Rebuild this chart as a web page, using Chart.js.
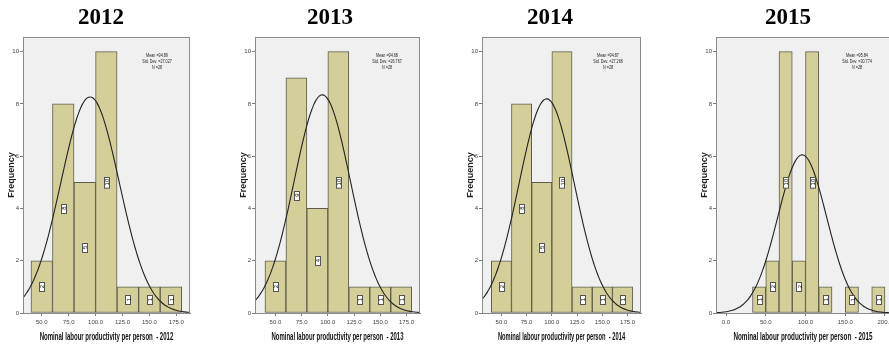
<!DOCTYPE html>
<html>
<head>
<meta charset="utf-8">
<script src="https://cdn.jsdelivr.net/npm/chart.js@4.4.1/dist/chart.umd.min.js"></script>
<style>
  html, body { margin: 0; padding: 0; background: #ffffff; }
  #wrap { position: relative; width: 889px; height: 347px; overflow: hidden; }
  #wrap .panel { position: absolute; top: 0; height: 347px; }
  #wrap canvas { display: block; }
</style>
</head>
<body>
<div id="wrap"></div>
<script>
// Years shown, one histogram each
const years = ['2012', '2013', '2014', '2015'];

// Histogram bins (midpoints) and frequencies
const binMids2012 = [50, 70, 90, 110, 130, 150, 170];
const counts2012  = [2, 8, 5, 10, 1, 1, 1];
const binMids2013 = [50, 70, 90, 110, 130, 150, 170];
const counts2013  = [2, 9, 4, 10, 1, 1, 1];
const binMids2014 = [50, 70, 90, 110, 130, 150, 170];
const counts2014  = [2, 8, 5, 10, 1, 1, 1];
const binMids2015 = [41.667, 58.333, 75, 91.667, 108.333, 125, 141.667, 158.333, 175, 191.667];
const counts2015  = [1, 2, 10, 2, 10, 1, 0, 1, 0, 1];
const binWidths   = [20, 20, 20, 50 / 3];

// Summary statistics printed in each panel (also define the normal curve)
const means   = [94.89, 94.68, 94.87, 95.84];
const stdDevs = [27.027, 26.767, 27.266, 30.774];
const nCases  = [28, 28, 28, 28];

// Axis ticks
const xTicksA    = [50, 75, 100, 125, 150, 175];
const xTicks2015 = [0, 50, 100, 150, 200];
const yTicks     = [0, 2, 4, 6, 8, 10];

const xTitlePrefix = 'Nominal labour productivity per person  - ';

// Panel placement on the page
const panels = [
  { left: 0,   width: 200, padRight: 10, xMin: 32.6,  xMax: 187.7, titleX: 101, mids: binMids2012, counts: counts2012, ticks: xTicksA },
  { left: 232, width: 200, padRight: 12, xMin: 30.5,  xMax: 187.9, titleX: 330, mids: binMids2013, counts: counts2013, ticks: xTicksA },
  { left: 459, width: 190, padRight: 8,  xMin: 30.8,  xMax: 188.3, titleX: 550, mids: binMids2014, counts: counts2014, ticks: xTicksA },
  { left: 693, width: 212, padRight: 15, xMin: -12.6, xMax: 206.3, titleX: 788, mids: binMids2015, counts: counts2015, ticks: xTicks2015 }
];

const SANS = "'Liberation Sans', Arial, sans-serif";
const NARROW = "'Liberation Sans Narrow', 'Liberation Sans', Arial, sans-serif";

// Fitted normal curve scaled to frequency units
function normalCurve(mean, sd, n, width, lo, hi) {
  const pts = [];
  const steps = 90;
  for (let i = 0; i <= steps; i++) {
    const x = lo + (hi - lo) * i / steps;
    const z = (x - mean) / sd;
    pts.push({ x: x, y: n * width * Math.exp(-0.5 * z * z) / (sd * Math.sqrt(2 * Math.PI)) });
  }
  return pts;
}

// Grey plot background and frame
const plotFrame = {
  id: 'plotFrame',
  beforeDatasetsDraw(chart) {
    const a = chart.chartArea, ctx = chart.ctx;
    ctx.save();
    ctx.fillStyle = '#f0f0f0';
    ctx.fillRect(a.left, a.top, a.right - a.left, a.bottom - a.top);
    ctx.restore();
  },
  afterDatasetsDraw(chart) {
    const a = chart.chartArea, ctx = chart.ctx;
    ctx.save();
    ctx.strokeStyle = '#8c8c8c';
    ctx.lineWidth = 1;
    ctx.strokeRect(Math.round(a.left) + 0.5, Math.round(a.top) + 0.5,
                   Math.round(a.right - a.left) - 1, Math.round(a.bottom - a.top));
    ctx.restore();
  }
};

// Boxed frequency label in the middle of each bar
const barLabels = {
  id: 'barLabels',
  afterDatasetsDraw(chart) {
    const meta = chart.getDatasetMeta(0);
    const data = chart.data.datasets[0].data;
    const ctx = chart.ctx;
    ctx.save();
    ctx.font = '6px ' + SANS;
    meta.data.forEach((bar, i) => {
      const v = data[i].y;
      if (!v) return;
      const cx = bar.x, cy = (bar.y + bar.base) / 2;
      const txt = String(v);
      const tw = ctx.measureText(txt).width;
      const h = Math.max(9, tw + 4), w = 5;
      ctx.fillStyle = '#ffffff';
      ctx.fillRect(Math.round(cx - w / 2) + 0.5, Math.round(cy - h / 2) + 0.5, w, h);
      ctx.strokeStyle = '#555555';
      ctx.lineWidth = 1;
      ctx.strokeRect(Math.round(cx - w / 2) + 0.5, Math.round(cy - h / 2) + 0.5, w, h);
      ctx.save();
      ctx.translate(cx + 0.5, cy);
      ctx.rotate(-Math.PI / 2);
      ctx.fillStyle = '#111111';
      ctx.textAlign = 'center';
      ctx.textBaseline = 'middle';
      ctx.fillText(txt, 0, 0.5);
      ctx.restore();
    });
    ctx.restore();
  }
};

// Year heading, statistics box and x-axis title
const panelText = {
  id: 'panelText',
  afterDraw(chart, args, opts) {
    const a = chart.chartArea, ctx = chart.ctx;
    ctx.save();
    // year heading
    ctx.fillStyle = '#000000';
    ctx.font = "bold 23px 'Liberation Serif', 'Times New Roman', serif";
    ctx.textAlign = 'center';
    ctx.textBaseline = 'middle';
    ctx.fillText(opts.year, opts.titleX, 18);

    // statistics
    ctx.font = '6px ' + SANS;
    ctx.fillStyle = '#222222';
    const lines = ['Mean =' + opts.mean.toFixed(2), 'Std. Dev. =' + opts.sd.toFixed(3), 'N =' + opts.n];
    lines.forEach((t, i) => {
      ctx.save();
      ctx.translate(a.right - 33, 55 + i * 6.2);
      ctx.scale(0.62, 1);
      ctx.fillText(t, 0, 0);
      ctx.restore();
    });

    // x-axis title, condensed to the panel width
    ctx.font = 'bold 10px ' + SANS;
    ctx.fillStyle = '#111111';
    const title = xTitlePrefix + opts.year;
    const tw = ctx.measureText(title).width;
    const sx = 0.8 * (a.right - a.left) / tw;
    ctx.translate((a.left + a.right) / 2, 337);
    ctx.scale(sx, 1);
    ctx.fillText(title, 0, 0);
    ctx.restore();
  }
};

const wrap = document.getElementById('wrap');

panels.forEach((p, k) => {
  const div = document.createElement('div');
  div.className = 'panel';
  div.style.left = p.left + 'px';
  div.style.width = p.width + 'px';
  const cv = document.createElement('canvas');
  cv.width = p.width;
  cv.height = 347;
  cv.style.width = p.width + 'px';
  cv.style.height = '347px';
  div.appendChild(cv);
  wrap.appendChild(div);

  const barData = p.mids.map((m, i) => ({ x: m, y: p.counts[i] }));
  const curve = normalCurve(means[k], stdDevs[k], nCases[k], binWidths[k], p.xMin, p.xMax);

  new Chart(cv, {
    type: 'bar',
    data: {
      datasets: [
        {
          type: 'bar',
          data: barData,
          backgroundColor: '#d4cf99',
          borderColor: '#5e5c4c',
          borderWidth: 1,
          borderSkipped: false,
          categoryPercentage: 1,
          barPercentage: 1,
          order: 2
        },
        {
          type: 'line',
          data: curve,
          borderColor: '#222222',
          borderWidth: 1.1,
          pointRadius: 0,
          tension: 0.3,
          fill: false,
          order: 1
        }
      ]
    },
    options: {
      responsive: false,
      animation: false,
      devicePixelRatio: 1,
      layout: { padding: { top: 37, left: 0, right: p.padRight, bottom: 0 } },
      plugins: {
        legend: { display: false },
        tooltip: { enabled: false },
        title: { display: false },
        panelText: { year: years[k], titleX: p.titleX - p.left, mean: means[k], sd: stdDevs[k], n: nCases[k] }
      },
      scales: {
        x: {
          type: 'linear',
          min: p.xMin,
          max: p.xMax,
          offset: false,
          afterBuildTicks: s => { s.ticks = p.ticks.map(v => ({ value: v })); },
          afterFit: s => { s.height = 34; },
          ticks: {
            font: { size: 6, family: NARROW },
            color: '#444444',
            padding: 3,
            autoSkip: false,
            maxRotation: 0,
            minRotation: 0,
            callback: v => Number(v).toFixed(1)
          },
          grid: { display: true, offset: false, drawOnChartArea: false, drawTicks: true, tickLength: 3, color: '#7a7a7a' },
          border: { display: true, color: '#7a7a7a' }
        },
        y: {
          min: 0,
          max: 10.56,
          afterBuildTicks: s => { s.ticks = yTicks.map(v => ({ value: v })); },
          afterFit: s => { s.width = 23; },
          ticks: {
            font: { size: 6, family: NARROW },
            color: '#444444',
            padding: 1,
            callback: v => String(v)
          },
          grid: { display: true, drawOnChartArea: false, drawTicks: true, tickLength: 3, color: '#7a7a7a' },
          border: { display: true, color: '#7a7a7a' },
          title: {
            display: true,
            text: 'Frequency',
            color: '#222222',
            font: { size: 9, weight: 'bold', family: SANS },
            padding: { top: 6, bottom: 0 }
          }
        }
      }
    },
    plugins: [plotFrame, barLabels, panelText]
  });
});
</script>
</body>
</html>
